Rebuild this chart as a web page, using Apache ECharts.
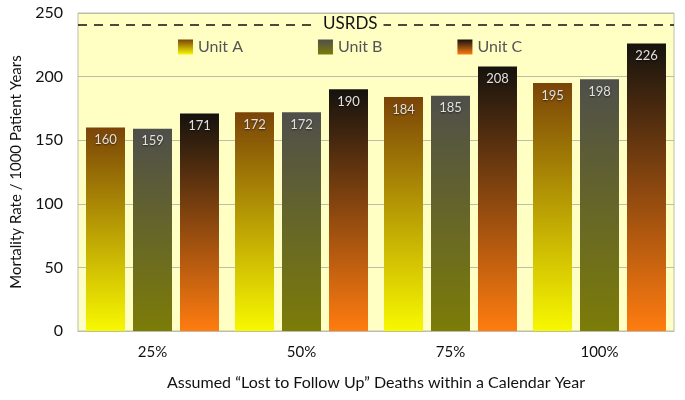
<!DOCTYPE html>
<html><head><meta charset="utf-8">
<script src="https://cdn.jsdelivr.net/npm/echarts@6/dist/echarts.min.js"></script>
<style>html,body{margin:0;padding:0;background:#fff}#c{width:685px;height:400px}</style>
</head><body><div id="c"></div>
<script>
const categories = ['25%', '50%', '75%', '100%'];
const unitA = [160, 172, 184, 195];
const unitB = [159, 172, 185, 198];
const unitC = [171, 190, 208, 226];
const usrds = 241;
const yTicks = [0, 50, 100, 150, 200, 250];

const FONT = 'Lato, "Open Sans", sans-serif';
function grad(top, bottom) {
  return new echarts.graphic.LinearGradient(0, 0, 0, 1, [
    {offset: 0, color: top}, {offset: 1, color: bottom}
  ]);
}
const gA = grad('#7a4408', '#f8f800');
const gB = grad('#4f4f4b', '#7c7c08');
const gC = grad('#15120e', '#ff7c10');

const labelCfg = {
  show: true, position: 'insideTop', distance: 6,
  color: '#e0e0e0', fontSize: 13, fontFamily: FONT,
  textShadowColor: 'rgba(0,0,0,0.6)', textShadowBlur: 2, textShadowOffsetY: 1
};

function mk(name, data, color, extra) {
  return Object.assign({
    name, type: 'bar', data,
    barWidth: 39, barGap: '20.5%',
    itemStyle: {color},
    label: labelCfg
  }, extra || {});
}

const chart = echarts.init(document.getElementById('c'));
const option = {
  animation: false,
  textStyle: {fontFamily: FONT},
  grid: {left: 78, right: 11, top: 13, bottom: 69, show: true,
         backgroundColor: '#ffffc4', borderColor: '#bdbdad', borderWidth: 1},
  legend: {
    top: 34, left: 173, itemWidth: 15, itemHeight: 15, itemGap: 75,
    icon: 'rect',
    textStyle: {fontSize: 16, color: '#555', fontFamily: FONT},
    data: ['Unit A', 'Unit B', 'Unit C']
  },
  xAxis: {
    type: 'category', data: categories,
    axisTick: {show: false},
    axisLine: {lineStyle: {color: '#bdbdad'}},
    axisLabel: {fontSize: 15, color: '#111', margin: 14, fontFamily: FONT},
    name: 'Assumed \u201cLost to Follow Up\u201d Deaths within a Calendar Year',
    nameLocation: 'middle', nameGap: 44,
    nameTextStyle: {fontSize: 16, color: '#111', fontFamily: FONT}
  },
  yAxis: {
    type: 'value', min: 0, max: 250, interval: 50,
    axisLabel: {fontSize: 16, color: '#111', margin: 15, fontFamily: FONT,
      formatter: v => yTicks.includes(v) ? String(v) : ''},
    axisLine: {show: false}, axisTick: {show: false},
    splitLine: {lineStyle: {color: '#bdbdad'}},
    name: 'Mortality Rate / 1000 Patient Years',
    nameLocation: 'middle', nameGap: 54, nameRotate: 90,
    nameTextStyle: {fontSize: 15, color: '#111', fontFamily: FONT}
  },
  series: [
    mk('Unit A', unitA, gA, {
      markLine: {
        silent: true, symbol: 'none',
        lineStyle: {type: [9, 7], color: '#111', width: 1.6},
        label: {show: false},
        data: [{yAxis: usrds}]
      }
    }),
    mk('Unit B', unitB, gB),
    mk('Unit C', unitC, gC)
  ]
};
chart.setOption(option);
const yPix = chart.convertToPixel({yAxisIndex: 0}, usrds);
chart.setOption({
  graphic: [{
    type: 'text', left: 317, top: yPix - 10, z: 100,
    style: {text: 'USRDS', fontSize: 17, fill: '#111', fontFamily: FONT,
            backgroundColor: '#ffffc4', padding: [1, 6, 1, 6]}
  }]
});
</script></body></html>
